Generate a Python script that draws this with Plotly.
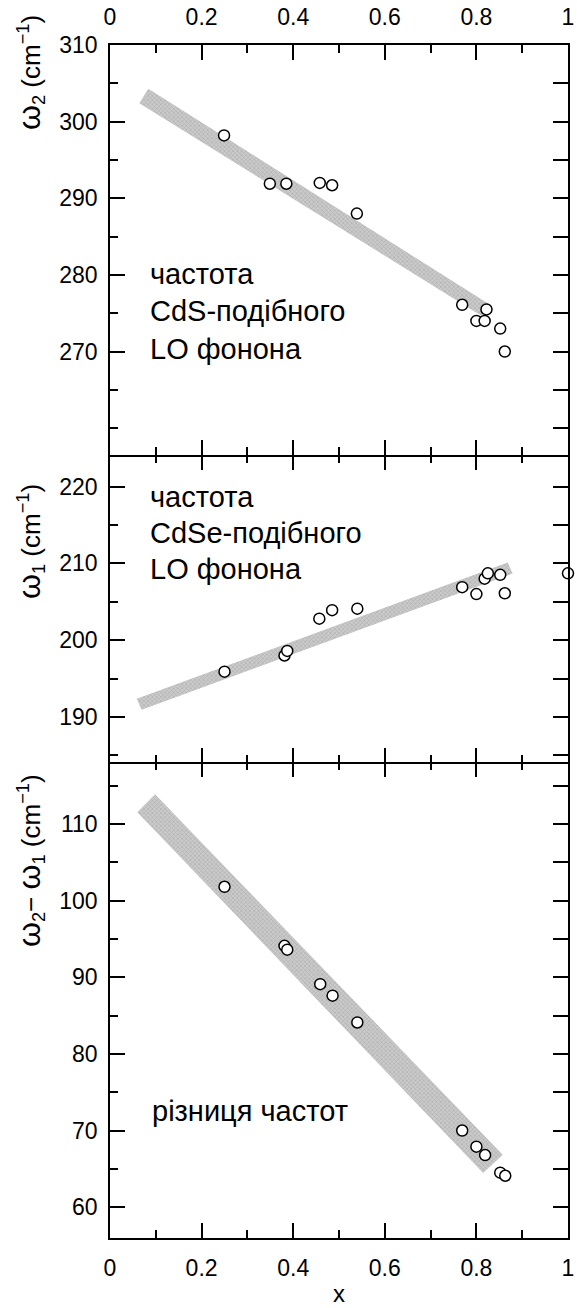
import plotly.graph_objects as go

# ---------------- data ----------------
x_w2 = [0.249, 0.349, 0.385, 0.458, 0.485, 0.539, 0.769, 0.800, 0.818, 0.822, 0.852, 0.862]
w2 = [298.2, 291.9, 291.9, 292.0, 291.7, 288.0, 276.1, 274.0, 274.0, 275.5, 273.0, 270.0]

x_w1 = [0.250, 0.381, 0.387, 0.457, 0.485, 0.540, 0.769, 0.800, 0.818, 0.825, 0.852, 0.862, 1.0]
w1 = [195.9, 198.0, 198.6, 202.8, 203.9, 204.1, 206.9, 206.0, 208.0, 208.7, 208.5, 206.1, 208.7]

x_d = [0.250, 0.381, 0.387, 0.459, 0.486, 0.540, 0.769, 0.800, 0.819, 0.852, 0.863]
d = [101.8, 94.1, 93.6, 89.1, 87.6, 84.1, 70.0, 67.9, 66.8, 64.5, 64.1]

# shaded fit bands (corner points)
band_top_x = [0.0836, 0.8297, 0.8116, 0.0640]
band_top_y = [304.3, 276.1, 274.65, 302.4]
band_mid_x = [0.0583, 0.8683, 0.8790, 0.0692]
band_mid_y = [192.37, 210.1, 208.67, 190.93]
band_bot_x = [0.0983, 0.8574, 0.8148, 0.0596]
band_bot_y = [113.87, 66.84, 64.46, 111.53]

x_ticks = [0, 0.2, 0.4, 0.6, 0.8, 1]
x_ticktext = ["0", "0.2", "0.4", "0.6", "0.8", "1"]
x_minor = [0.1, 0.3, 0.5, 0.7, 0.9]

top_ticks = [270, 280, 290, 300, 310]
top_minor = [260, 265, 275, 285, 295, 305]
top_right = [260, 265, 270, 275, 280, 285, 290, 295, 300, 305, 310]
mid_ticks = [190, 200, 210, 220]
mid_minor = [185, 195, 205, 215]
mid_right = [185, 190, 195, 200, 205, 210, 215, 220]
bot_ticks = [60, 70, 80, 90, 100, 110]
bot_minor = [65, 75, 85, 95, 105, 115]
bot_right = [60, 65, 70, 75, 80, 85, 90, 95, 100, 105, 110, 115]

# ---------------- style ----------------
FONT = "Liberation Sans, Arial, sans-serif"
TICKFONT = dict(family=FONT, size=23, color="black")
LW = 1.6
band_style = dict(
    mode="lines", fill="toself", line=dict(width=0), fillcolor="#c0c0c0",
    fillpattern=dict(shape="x", fgcolor="#939393", bgcolor="#cbcbcb", size=3, solidity=0.4),
    showlegend=False, hoverinfo="skip",
)
marker_style = dict(symbol="circle", size=11, color="white", line=dict(color="black", width=1.5))

fig = go.Figure()

# top panel (x3, y)
fig.add_trace(go.Scatter(x=band_top_x, y=band_top_y, xaxis="x3", yaxis="y", **band_style))
fig.add_trace(go.Scatter(x=x_w2, y=w2, mode="markers", marker=marker_style, xaxis="x3", yaxis="y",
                         cliponaxis=False, showlegend=False))
# middle panel (x2, y2)
fig.add_trace(go.Scatter(x=band_mid_x, y=band_mid_y, xaxis="x2", yaxis="y2", **band_style))
fig.add_trace(go.Scatter(x=x_w1, y=w1, mode="markers", marker=marker_style, xaxis="x2", yaxis="y2",
                         cliponaxis=False, showlegend=False))
# bottom panel (x, y3)
fig.add_trace(go.Scatter(x=band_bot_x, y=band_bot_y, xaxis="x", yaxis="y3", **band_style))
fig.add_trace(go.Scatter(x=x_d, y=d, mode="markers", marker=marker_style, xaxis="x", yaxis="y3",
                         cliponaxis=False, showlegend=False))
# empty traces that attach the extra tick-only axes
for xa, ya in [("x3", "y4"), ("x2", "y5"), ("x", "y6"), ("x4", "y2"), ("x5", "y3")]:
    fig.add_trace(go.Scatter(x=[None], y=[None], xaxis=xa, yaxis=ya, showlegend=False, hoverinfo="skip"))

H, T, B = 1308, 45, 70
PH = H - T - B
def py2paper(py):
    return (H - B - py) / PH

dom_top = [py2paper(455), 1.0]
dom_mid = [py2paper(762.3), py2paper(455)]
dom_bot = [0.0, py2paper(762.3)]

MINOR_X = dict(tickvals=x_minor, ticks="inside", ticklen=8, tickwidth=LW, tickcolor="black", showgrid=False)

def xaxis_common(**kw):
    base = dict(range=[0, 1], tickvals=x_ticks, ticktext=x_ticktext, ticks="inside", ticklen=15,
                tickwidth=LW, tickcolor="black", showline=True, linecolor="black", linewidth=LW,
                showgrid=False, zeroline=False, tickfont=TICKFONT, automargin=False,
                minor=MINOR_X, ticklabelstandoff=9, fixedrange=True)
    base.update(kw)
    return base

def xaxis_tickonly(over, anchor):
    return dict(range=[0, 1], overlaying=over, anchor=anchor, side="top", tickvals=x_ticks,
                ticks="inside", ticklen=15, tickwidth=LW, tickcolor="black", showline=False,
                showticklabels=False, showgrid=False, zeroline=False, automargin=False,
                minor=MINOR_X, fixedrange=True)

def yaxis_left(rng, ticks, minor, dom, anchor):
    return dict(range=rng, domain=dom, anchor=anchor, tickvals=ticks, ticks="inside", ticklen=15,
                tickwidth=LW, tickcolor="black", showline=True, linecolor="black", linewidth=LW,
                showgrid=False, zeroline=False, tickfont=TICKFONT, ticklabelstandoff=6,
                automargin=False,
                minor=dict(tickvals=minor, ticks="inside", ticklen=8, tickwidth=LW, tickcolor="black",
                           showgrid=False), fixedrange=True)

def yaxis_right(rng, ticks, over, anchor):
    return dict(range=rng, overlaying=over, anchor=anchor, side="right", tickvals=ticks, ticks="inside",
                ticklen=15, tickwidth=LW, tickcolor="black", showline=True, linecolor="black",
                linewidth=LW, showgrid=False, zeroline=False, showticklabels=False, automargin=False,
                fixedrange=True)

rng_top = [256.5, 310]
rng_mid = [184.1, 224.1]
rng_bot = [55.98, 118.04]

fig.update_layout(
    width=577, height=H,
    margin=dict(l=110, r=9, t=T, b=B, autoexpand=False),
    paper_bgcolor="white", plot_bgcolor="white",
    font=dict(family=FONT, color="black"),
    showlegend=False,
    xaxis=xaxis_common(anchor="y3"),
    xaxis2=xaxis_common(anchor="y2", showticklabels=False),
    xaxis3=xaxis_common(anchor="y", side="top", mirror="ticks"),
    xaxis4=xaxis_tickonly("x2", "y2"),
    xaxis5=xaxis_tickonly("x", "y3"),
    yaxis=yaxis_left(rng_top, top_ticks, top_minor, dom_top, "x3"),
    yaxis2=yaxis_left(rng_mid, mid_ticks, mid_minor, dom_mid, "x2"),
    yaxis3=yaxis_left(rng_bot, bot_ticks, bot_minor, dom_bot, "x"),
    yaxis4=yaxis_right(rng_top, top_right, "y", "x3"),
    yaxis5=yaxis_right(rng_mid, mid_right, "y2", "x2"),
    yaxis6=yaxis_right(rng_bot, bot_right, "y3", "x"),
)

LABEL = dict(family=FONT, size=29, color="black")
ann = []
def add_label(text, x, y, xref, yref):
    ann.append(dict(text=text, x=x, y=y, xref=xref, yref=yref, xanchor="left", yanchor="middle",
                    showarrow=False, font=LABEL))

# panel texts
for txt, yy in [("частота", 280.1), ("CdS-подібного", 275.3), ("LO фонона", 270.3)]:
    add_label(txt, 0.082, yy, "x3", "y")
for txt, yy in [("частота", 218.6), ("CdSe-подібного", 213.9), ("LO фонона", 209.3)]:
    add_label(txt, 0.082, yy, "x2", "y2")
add_label("різниця частот", 0.088, 72.6, "x", "y3")

# y titles
TITLEFONT = dict(family=FONT, size=26, color="black")
W = "<span style='font-size:32px'>ω</span>"
for txt, py in [(W + "<sub>2</sub> (cm<sup>−1</sup>)", 73),
                (W + "<sub>1</sub> (cm<sup>−1</sup>)", 542),
                (W + "<sub>2</sub>− " + W + "<sub>1</sub> (cm<sup>−1</sup>)", 861)]:
    ann.append(dict(text=txt, x=(30 - 110) / 458, y=py2paper(py), xref="paper", yref="paper",
                    textangle=-90, xanchor="center", yanchor="middle", showarrow=False, font=TITLEFONT))
# x title
ann.append(dict(text="x", x=0.5, y=py2paper(1293), xref="paper", yref="paper", xanchor="center",
                yanchor="middle", showarrow=False, font=dict(family=FONT, size=24, color="black")))

fig.update_layout(annotations=ann)
fig.write_html("out.html", config={"displayModeBar": False},
               post_script="document.body.style.margin='0';")
